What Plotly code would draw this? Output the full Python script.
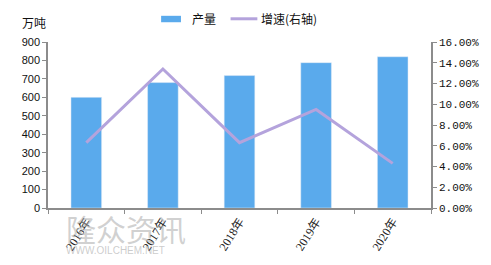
import plotly.graph_objects as go

years = ["2016年", "2017年", "2018年", "2019年", "2020年"]
output = [600, 680, 718, 788, 820]          # 万吨
growth = [0.063, 0.134, 0.063, 0.095, 0.043]  # 增速

bar_color = "#5AAAEC"
line_color = "#B4A3DC"
axis_color = "#8C8C8C"
cjk = "Liberation Serif, Noto Sans CJK SC"

fig = go.Figure()
fig.add_trace(go.Bar(x=years, y=output, name="产量", marker_color=bar_color,
                     width=0.4, showlegend=False))
fig.add_trace(go.Scatter(x=years, y=growth, name="增速(右轴)", mode="lines",
                         line=dict(color=line_color, width=3), yaxis="y2",
                         showlegend=False))

L, R, T, B = 48, 57, 42, 55
W, H = 491, 265
pw, ph = W - L - R, H - T - B

def px(x):
    return (x - L) / pw

def py(y):
    return (H - B - y) / ph

fig.update_layout(
    width=W, height=H,
    margin=dict(l=L, r=R, t=T, b=B),
    paper_bgcolor="white", plot_bgcolor="white",
    bargap=0.6,
    xaxis=dict(type="category", tickson="boundaries", ticks="outside", ticklen=4,
               tickcolor=axis_color, showline=True, linecolor=axis_color, linewidth=1.5,
               tickangle=-58, tickfont=dict(family=cjk, size=12, color="#222"),
               showgrid=False),
    yaxis=dict(range=[0, 900], dtick=100, ticks="outside", ticklen=4, tickcolor=axis_color,
               showline=True, linecolor=axis_color, linewidth=1.5, showgrid=False,
               zeroline=False, tickfont=dict(family="Liberation Sans, Arial", size=11, color="#111")),
    yaxis2=dict(range=[0, 0.16], dtick=0.02, tickformat=".2%", overlaying="y", side="right",
                ticks="outside", ticklen=4, tickcolor=axis_color, showline=True,
                linecolor=axis_color, linewidth=1.5, showgrid=False, zeroline=False,
                tickfont=dict(family="Liberation Mono, DejaVu Sans Mono", size=11, color="#111")),
)

# custom legend
fig.add_shape(type="rect", xref="paper", yref="paper", x0=px(162), x1=px(182),
              y0=py(22), y1=py(15.5), fillcolor=bar_color, line_width=0)
fig.add_shape(type="line", xref="paper", yref="paper", x0=px(232), x1=px(259),
              y0=py(18.5), y1=py(18.5), line=dict(color=line_color, width=3))
fig.add_annotation(text="产量", xref="paper", yref="paper", x=px(191), y=py(18.5),
                   xanchor="left", yanchor="middle", showarrow=False,
                   font=dict(family="Noto Sans CJK SC", size=12, color="#111"))
fig.add_annotation(text="增速(右轴)", xref="paper", yref="paper", x=px(261), y=py(18.5),
                   xanchor="left", yanchor="middle", showarrow=False,
                   font=dict(family="Noto Sans CJK SC", size=12, color="#111"))
fig.add_annotation(text="万吨", xref="paper", yref="paper", x=px(20), y=py(22.5),
                   xanchor="left", yanchor="middle", showarrow=False,
                   font=dict(family="Noto Sans CJK SC", size=12, color="#111"))

# watermark
fig.add_annotation(text="隆众资讯", xref="paper", yref="paper", x=px(64), y=py(230),
                   xanchor="left", yanchor="middle", showarrow=False,
                   font=dict(family="Noto Sans CJK SC", size=30, color="rgba(170,170,170,0.55)"))
fig.add_annotation(text="WWW.OILCHEM.NET", xref="paper", yref="paper", x=px(64), y=py(253),
                   xanchor="left", yanchor="middle", showarrow=False,
                   font=dict(family="Liberation Sans, Arial", size=10, color="rgba(170,170,170,0.6)"))

fig.write_html("out.html")
